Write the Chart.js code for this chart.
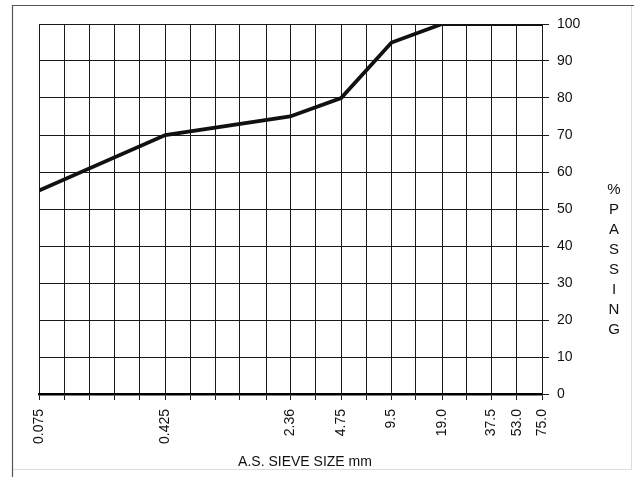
<!DOCTYPE html>
<html>
<head>
<meta charset="utf-8">
<script src="https://cdn.jsdelivr.net/npm/chart.js@4.4.1/dist/chart.umd.min.js"></script>
<style>
  html, body { margin: 0; padding: 0; background: #fff; }
  #wrap { width: 634px; height: 477px; position: relative; }
</style>
</head>
<body>
<div id="wrap"><canvas id="gradingChart"></canvas></div>
<script>
// Tamis (mm) et pourcentage passant
const sieveSizes = [0.075, 0.425, 2.36, 4.75, 9.5, 19.0, 37.5, 53.0, 75.0];
const percentPassing = [55, 70, 75, 80, 95, 100, 100, 100, 100];

// Lignes verticales de la grille (échelle log)
const gridSizes = [0.075, 0.106, 0.15, 0.212, 0.3, 0.425, 0.6, 0.85, 1.18, 1.7,
  2.36, 3.35, 4.75, 6.7, 9.5, 13.2, 19.0, 26.5, 37.5, 53.0, 75.0];
const tickLabels = ['0.075', '0.425', '2.36', '4.75', '9.5', '19.0', '37.5', '53.0', '75.0'];

const xTitle = 'A.S. SIEVE SIZE mm';
const yTitleLetters = ['%', 'P', 'A', 'S', 'S', 'I', 'N', 'G'];

const FONT = '"Liberation Sans", Arial, sans-serif';

const framePlugin = {
  id: 'frame',
  beforeDraw(chart) {
    const ctx = chart.ctx;
    ctx.save();
    ctx.fillStyle = '#fff';
    ctx.fillRect(0, 0, chart.width, chart.height);
    // bordure extérieure
    ctx.strokeStyle = '#ddd';
    ctx.lineWidth = 1;
    ctx.beginPath();
    ctx.moveTo(631.5, 5);
    ctx.lineTo(631.5, 469.5);
    ctx.lineTo(12, 469.5);
    ctx.stroke();
    ctx.strokeStyle = '#555';
    ctx.lineWidth = 1.2;
    ctx.beginPath();
    ctx.moveTo(12.5, 477);
    ctx.lineTo(12.5, 5.5);
    ctx.lineTo(634, 5.5);
    ctx.stroke();
    ctx.restore();
  },
  afterDraw(chart) {
    const ctx = chart.ctx;
    ctx.save();
    ctx.fillStyle = '#111';
    ctx.textAlign = 'center';
    ctx.textBaseline = 'middle';
    ctx.font = '14px ' + FONT;
    ctx.fillText(xTitle, 305, 462);
    ctx.font = '15px ' + FONT;
    yTitleLetters.forEach((ch, i) => {
      ctx.fillText(ch, 614, 190 + i * 20);
    });
    ctx.restore();
  }
};

const ctx = document.getElementById('gradingChart');
new Chart(ctx, {
  type: 'line',
  data: {
    datasets: [{
      data: sieveSizes.map((s, i) => ({ x: s, y: percentPassing[i] })),
      borderColor: '#111',
      borderWidth: 3.8,
      pointRadius: 0,
      tension: 0,
      fill: false
    }]
  },
  options: {
    responsive: true,
    maintainAspectRatio: false,
    animation: false,
    layout: { padding: { left: 39, top: 24, right: 0, bottom: 0 } },
    plugins: {
      legend: { display: false },
      tooltip: { enabled: false }
    },
    scales: {
      x: {
        type: 'logarithmic',
        min: 0.075,
        max: 75,
        afterBuildTicks(scale) {
          scale.ticks = gridSizes.map(v => ({ value: v }));
        },
        afterFit(scale) {
          scale.height = 83;
        },
        grid: {
          color: '#1a1a1a',
          lineWidth: 1,
          tickLength: 6,
          drawTicks: true
        },
        border: { color: '#000', width: 2.5 },
        ticks: {
          autoSkip: false,
          minRotation: 90,
          maxRotation: 90,
          padding: 9,
          color: '#111',
          font: { family: FONT, size: 14 },
          callback(value) {
            const lbl = tickLabels.find(t => Math.abs(parseFloat(t) - value) < 1e-6);
            return lbl || '';
          }
        }
      },
      y: {
        position: 'right',
        min: 0,
        max: 100,
        afterFit(scale) {
          scale.width = 92;
        },
        grid: {
          color: '#1a1a1a',
          lineWidth: 1,
          tickLength: 7
        },
        border: { color: '#1a1a1a', width: 1 },
        ticks: {
          stepSize: 10,
          padding: 8,
          color: '#111',
          font: { family: FONT, size: 14 }
        }
      }
    }
  },
  plugins: [framePlugin]
});
</script>
</body>
</html>
